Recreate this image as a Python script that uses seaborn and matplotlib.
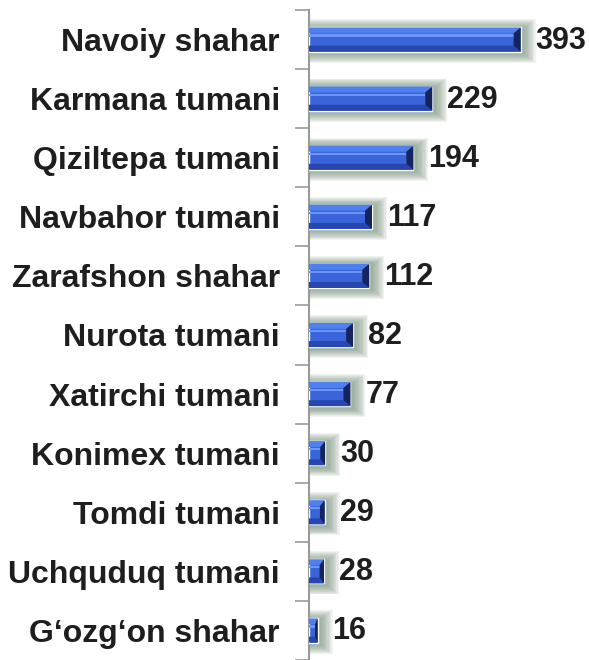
import numpy as np
import pandas as pd
import matplotlib.pyplot as plt
import seaborn as sns
from matplotlib.patches import Rectangle, Polygon

districts = ["Navoiy shahar", "Karmana tumani", "Qiziltepa tumani", "Navbahor tumani",
             "Zarafshon shahar", "Nurota tumani", "Xatirchi tumani", "Konimex tumani",
             "Tomdi tumani", "Uchquduq tumani", "G\u2018ozg\u2018on shahar"]
counts = [393, 229, 194, 117, 112, 82, 77, 30, 29, 28, 16]

df = pd.DataFrame({"district": districts, "count": counts})

sns.set_style("white")
plt.rcParams['font.family'] = ['Liberation Sans', 'DejaVu Sans']

fig = plt.figure(figsize=(5.89, 6.60), dpi=100)
ax = fig.add_axes([309 / 589, 0.0, 1 - 309 / 589, 650 / 660])

sns.barplot(data=df, x="count", y="district", orient="h", color="#3a64da",
            width=0.41, ax=ax, saturation=1, zorder=3)

ax.set_xlim(0, 520)
ax.set_ylim(len(districts) - 0.5, -0.5)

# px per data unit
px_x = (589 - 309) / 520
px_y = 650 / len(districts)

for p in ax.patches[:len(counts)]:
    x0, y0 = p.get_x(), p.get_y()
    w, h = p.get_width(), p.get_height()
    y1 = y0 + h
    # soft glow behind the bar (slightly offset down/right)
    for k in range(10, 0, -1):
        dx = k * 1.3 / px_x
        dy = k * 0.95 / px_y
        ax.add_patch(Rectangle((x0, y0 - dy + 1.5 / px_y), w + dx + 2 / px_x,
                               h + 2 * dy, color="#7a937d", alpha=0.11, lw=0, zorder=1))
    # bevel edges
    bx = min(7 / px_x, w * 0.3)
    by = 6 / px_y
    ax.add_patch(Polygon([(x0, y0), (x0 + w, y0), (x0 + w - bx, y0 + by), (x0, y0 + by)],
                         closed=True, color="#4f80f2", lw=0, zorder=4))
    ax.add_patch(Polygon([(x0, y1), (x0 + w, y1), (x0 + w - bx, y1 - by), (x0, y1 - by)],
                         closed=True, color="#2746ae", lw=0, zorder=4))
    ax.add_patch(Rectangle((x0, y0 + by + 1 / px_y), w - bx, 2.2 / px_y,
                           color="#6e96f6", lw=0, zorder=4))
    ax.add_patch(Polygon([(x0 + w, y0), (x0 + w, y1), (x0 + w - bx, y1 - by), (x0 + w - bx, y0 + by)],
                         closed=True, color="#15245f", lw=0, zorder=5))
    ax.text(x0 + w + 15 / px_x, y0 + h / 2 + 1 / px_y, f"{int(w)}", va="center", ha="left",
            fontsize=22, fontweight="bold", color="#1e1e1e", zorder=6)

ax.set_xlabel("")
ax.set_ylabel("")
ax.set_xticks([])
sns.despine(ax=ax, top=True, right=True, bottom=True, left=False)
ax.spines["left"].set_color("#9a9a9a")
ax.spines["left"].set_linewidth(1.5)

ax.set_yticks(np.arange(len(districts) + 1) - 0.5, minor=True)
ax.tick_params(axis="y", which="major", length=0, pad=21)
ax.tick_params(axis="y", which="minor", length=10, width=1.2, color="#9a9a9a", left=True)
for lbl in ax.get_yticklabels():
    lbl.set_fontsize(23)
    lbl.set_fontweight("bold")
    lbl.set_color("#1e1e1e")

fig.savefig("out.png", dpi=100)
